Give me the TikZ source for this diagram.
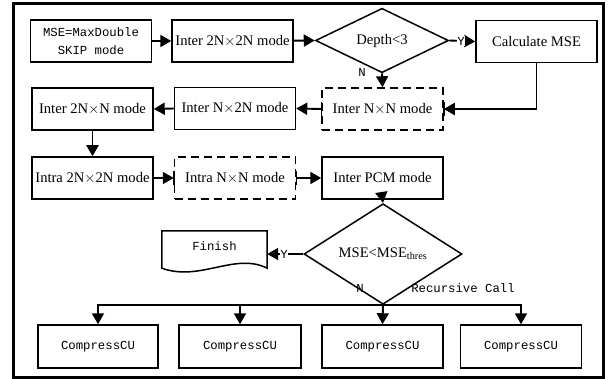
\documentclass[tikz,border=0pt]{standalone}
\usepackage{fontspec}
\setmainfont{Liberation Serif}
\setmonofont{Liberation Mono}
\usetikzlibrary{arrows.meta,shapes.geometric}
\begin{document}
\begin{tikzpicture}[x=1pt,y=-1pt,
 box/.style={draw,line width=1.5pt,minimum width=121pt,minimum height=42pt,inner sep=0pt,font=\fontsize{14.6}{16}\selectfont},
 dbox/.style={box,dash pattern=on 8pt off 5pt},
 mbox/.style={box,align=center,font=\fontsize{12.3}{18}\selectfont\ttfamily},
 dia/.style={draw,diamond,line width=1.5pt,inner sep=0pt,font=\fontsize{14.6}{16}\selectfont},
 tip/.tip={Triangle[length=11pt,width=12pt]},
 conn/.style={line width=1.9pt,-tip},
 lbl/.style={font=\fontsize{12.3}{14}\selectfont\ttfamily,inner sep=0.5pt},
 bar/.style={line width=1.5pt}
]
\useasboundingbox (0,0) rectangle (615,379);
\draw[line width=3pt] (13,4) rectangle (603,377);

% row 1
\node[mbox] (mse) at (91,41) {MSE=MaxDouble\\SKIP mode};
\node[box] (i22) at (232.5,41) {Inter 2N$\times$2N mode};
\node[dia,minimum width=133pt,minimum height=47pt] (dep) at (382,40.5) {Depth<3};
\node[box] (calc) at (536.5,41.5) {Calculate MSE};

% row 2
\node[box] (i2n) at (92.5,109) {Inter 2N$\times$N mode};
\node[box] (in2) at (235,108.5) {Inter N$\times$2N mode};
\node[dbox] (inn) at (382.5,109) {Inter N$\times$N mode};

% row 3
\node[box] (a22) at (92.5,178) {Intra 2N$\times$2N mode};
\node[dbox] (ann) at (235,178) {Intra N$\times$N mode};
\node[box] (pcm) at (382.5,178) {Inter PCM mode};

% decision 2
\node[dia,minimum width=158pt,minimum height=66pt] (thr) at (383,254) {MSE<MSE\textsubscript{thres}};
\node[inner sep=0pt,minimum width=105pt,minimum height=37pt,text depth=6pt,font=\fontsize{12.3}{14}\selectfont\ttfamily] (fin) at (214.5,249.5) {Finish};
\draw[line width=1.5pt] (fin.north west) -- (fin.north east) -- (fin.south east)
  .. controls (235,252) and (200,282) .. (fin.south west) -- cycle;

% bottom row
\node[mbox,minimum width=120pt,minimum height=43pt] (c1) at (98,346.5) {CompressCU};
\node[mbox,minimum width=122pt,minimum height=43pt] (c2) at (240,346.5) {CompressCU};
\node[mbox,minimum width=121pt,minimum height=43pt] (c3) at (382.5,346.5) {CompressCU};
\node[mbox,minimum width=121pt,minimum height=43pt] (c4) at (521,346.5) {CompressCU};

% solid bars at the middle of dashed sides
\foreach \n in {inn,ann}{
  \draw[bar] ([yshift=-7pt]\n.west) -- ([yshift=7pt]\n.west);
  \draw[bar] ([yshift=-7pt]\n.east) -- ([yshift=7pt]\n.east);
}

% connectors
\draw[conn] (mse) -- (i22);
\draw[conn] (i22) -- (dep.west);
\draw[conn] (dep.east) -- (calc.west);
\node[lbl,fill=white] (ly1) at (461,41) {Y};
\draw[conn] (dep.south) -- (inn.north);
\node[lbl] (ln1) at (362,72) {N};
\draw[conn] (calc.south) |- (inn.east);
\draw[conn] (inn.west) -- (in2.east);
\draw[conn] (in2.west) -- (i2n.east);
\draw[conn] (i2n.south) -- (a22.north);
\draw[conn] (a22.east) -- (ann.west);
\draw[conn] (ann.east) -- (pcm.west);
\draw[conn] (pcm.south) -- (thr.north);
\draw[conn] (thr.west) -- (thr.west -| fin.east);
\node[lbl,fill=white] (ly2) at (284,254) {Y};
\node[lbl] (ln2) at (360,288) {N};
\node[lbl] (rc) at (463,288) {Recursive Call};

\coordinate (bus) at (0,305);
\draw[line width=1.9pt,tip-tip]
  (c1.north) |- (c4.north |- bus) -- (c4.north);
\draw[conn] (c2.north |- bus) -- (c2.north);
\draw[conn] (thr.south) -- (c3.north);
\end{tikzpicture}
\end{document}
